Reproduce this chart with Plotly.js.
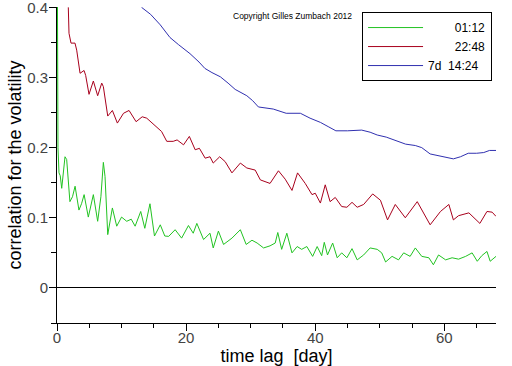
<!DOCTYPE html>
<html>
<head>
<meta charset="utf-8">
<script src="https://cdn.plot.ly/plotly-3.0.1.min.js"></script>
<style>html,body{margin:0;padding:0;background:#fff;}#chart{width:512px;height:366px;}</style>
</head>
<body>
<div id="chart"></div>
<script>
// Series: 01:12 (green)
const greenX = [0.00,0.05,0.10,0.15,0.31,0.50,0.73,1.00,1.24,1.50,2.00,2.40,2.80,3.40,3.80,4.20,4.85,5.63,6.30,6.80,7.18,7.44,7.86,8.58,9.25,10.0,10.8,11.5,12.1,12.97,13.6,14.4,15.1,16.0,16.7,17.3,18.3,19.3,20.36,21.1,21.66,22.7,23.7,24.2,25.0,25.8,27.1,28.4,29.3,30.2,31.0,32.0,33.0,33.8,34.2,34.8,35.6,36.4,37.2,37.9,38.7,39.6,40.3,41.0,41.4,41.9,42.7,43.4,44.1,44.9,45.7,46.5,47.5,48.5,49.6,50.3,50.9,51.9,52.9,53.7,54.7,55.5,56.5,57.6,58.3,59.1,60.2,61.2,62.2,63.3,64.3,65.1,65.8,66.6,67.1,68.0];
const greenY = [0.60,0.40,0.286,0.20,0.164,0.16,0.142,0.17,0.187,0.183,0.123,0.13,0.145,0.111,0.12,0.133,0.101,0.133,0.095,0.13,0.179,0.159,0.076,0.114,0.088,0.101,0.095,0.098,0.088,0.109,0.085,0.12,0.074,0.09,0.074,0.0735,0.083,0.071,0.089,0.078,0.092,0.069,0.078,0.057,0.081,0.062,0.071,0.083,0.062,0.068,0.064,0.057,0.06,0.064,0.079,0.055,0.078,0.05,0.059,0.055,0.059,0.045,0.059,0.046,0.065,0.047,0.064,0.043,0.05,0.043,0.056,0.04,0.047,0.057,0.055,0.05,0.037,0.045,0.04,0.05,0.045,0.057,0.045,0.043,0.033,0.047,0.04,0.043,0.041,0.045,0.05,0.038,0.046,0.052,0.038,0.045];

// Series: 22:48 (red)
const redX = [1.75,1.86,2.17,2.79,3.05,3.57,4.19,4.44,4.96,5.63,6.30,6.93,7.18,7.86,8.58,9.35,10.3,11.16,12.25,13.2,13.9,15.2,16.2,17.0,18.0,18.6,19.6,20.5,21.4,22.06,22.95,23.7,24.2,25.2,26.05,27.1,28.4,29.4,30.7,31.5,33.0,34.3,35.35,36.4,37.26,38.45,39.5,40.0,40.8,41.55,42.3,43.1,44.1,44.9,45.7,46.5,47.5,48.9,50.1,51.2,52.4,53.95,55.8,57.8,59.4,60.7,61.4,62.2,63.8,65.5,66.6,67.4,68.0];
const redY = [0.40,0.363,0.349,0.349,0.339,0.306,0.310,0.303,0.276,0.295,0.274,0.292,0.287,0.245,0.253,0.235,0.249,0.253,0.237,0.244,0.242,0.232,0.223,0.209,0.209,0.211,0.204,0.216,0.197,0.199,0.185,0.187,0.178,0.187,0.180,0.164,0.178,0.171,0.168,0.154,0.149,0.167,0.155,0.139,0.164,0.149,0.133,0.135,0.121,0.147,0.123,0.129,0.116,0.115,0.122,0.115,0.119,0.134,0.125,0.097,0.119,0.100,0.123,0.090,0.109,0.119,0.097,0.103,0.107,0.092,0.109,0.108,0.102];

// Series: 7d 14:24 (blue)
const blueX = [13.1,14.5,16.0,17.5,18.8,20.6,22.0,22.9,24.0,25.3,26.5,27.6,29.4,30.3,31.2,32.5,33.5,35.5,37.7,39.2,40.8,42.0,43.2,45.0,47.2,48.5,49.6,51.0,52.5,54.0,55.5,56.5,57.8,59.5,61.4,62.5,63.7,65.0,66.1,67.0,68.0];
const blueY = [0.400,0.390,0.375,0.357,0.347,0.334,0.322,0.313,0.307,0.301,0.292,0.283,0.274,0.267,0.258,0.256,0.255,0.249,0.249,0.242,0.236,0.230,0.224,0.224,0.225,0.222,0.218,0.215,0.210,0.205,0.203,0.200,0.191,0.188,0.184,0.187,0.192,0.192,0.193,0.196,0.196];

const seriesNames = ['\u00a0\u00a0\u00a0\u00a0\u00a0\u00a0\u00a0\u00a001:12', '\u00a0\u00a0\u00a0\u00a0\u00a0\u00a0\u00a0\u00a022:48', '7d\u00a0\u00a014:24'];

const font = 'Liberation Sans, Arial, sans-serif';

const traces = [
  {x: greenX, y: greenY, name: seriesNames[0], type: 'scatter', mode: 'lines', line: {color: '#22c322', width: 1}},
  {x: redX, y: redY, name: seriesNames[1], type: 'scatter', mode: 'lines', line: {color: '#a8001c', width: 1}},
  {x: blueX, y: blueY, name: seriesNames[2], type: 'scatter', mode: 'lines', line: {color: '#3030b0', width: 1}}
];

const layout = {
  width: 512, height: 366,
  margin: {l: 57, r: 16, t: 7, b: 43, pad: 0},
  paper_bgcolor: '#fff', plot_bgcolor: '#fff',
  font: {family: font, color: '#000'},
  showlegend: true,
  legend: {
    x: 0.991, xanchor: 'right', y: 0.984, yanchor: 'top',
    bordercolor: '#000', borderwidth: 1, bgcolor: '#fff',
    font: {family: font, size: 12, color: '#000'},
    tracegroupgap: 0, itemwidth: 55
  },
  xaxis: {
    range: [0, 68], showgrid: false, zeroline: false,
    showline: true, linecolor: '#000', linewidth: 1,
    ticks: 'outside', ticklen: 7, tickcolor: '#000', tickwidth: 1,
    tickmode: 'linear', tick0: 0, dtick: 20,
    minor: {dtick: 5, ticks: 'outside', ticklen: 4, tickcolor: '#000', tickwidth: 1, showgrid: false},
    tickfont: {family: font, size: 15, color: '#444'},
    ticklabelstandoff: -6,
    ticklabeloverflow: 'allow',
    title: {text: 'time lag\u00a0\u00a0[day]', font: {family: font, size: 18, color: '#000'}, standoff: 2}
  },
  yaxis: {
    range: [-0.05, 0.4005], showgrid: false,
    zeroline: true, zerolinecolor: '#000', zerolinewidth: 1,
    showline: true, linecolor: '#000', linewidth: 1,
    ticks: 'outside', ticklen: 7, tickcolor: '#000', tickwidth: 1,
    tickmode: 'linear', tick0: 0, dtick: 0.1,
    minor: {dtick: 0.05, ticks: 'outside', ticklen: 5, tickcolor: '#000', tickwidth: 1, showgrid: false},
    tickfont: {family: font, size: 15, color: '#444'},
    ticklabelstandoff: -2,
    ticklabeloverflow: 'allow',
    title: {text: 'correlation for the volatility', font: {family: font, size: 18, color: '#000'}, standoff: 0}
  },
  annotations: [{
    text: 'Copyright Gilles Zumbach 2012', xref: 'paper', yref: 'paper',
    x: 0.536, y: 0.971, xanchor: 'center', yanchor: 'middle', showarrow: false,
    font: {family: font, size: 8.5, color: '#000'}
  }]
};

Plotly.newPlot('chart', traces, layout, {displayModeBar: false, staticPlot: true});
</script>
</body>
</html>
